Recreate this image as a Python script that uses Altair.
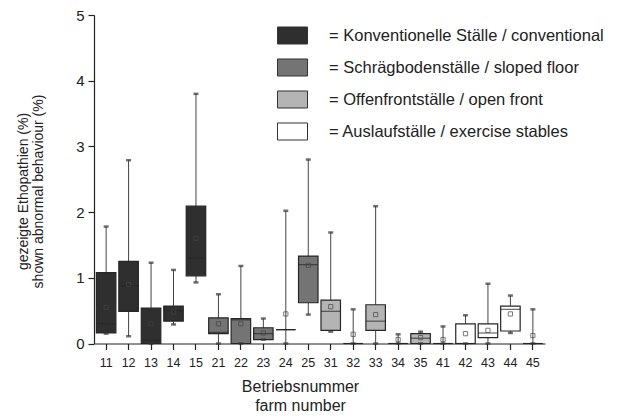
import altair as alt
import pandas as pd

# Farm numbers (first digit = housing system)
farms = ["11", "12", "13", "14", "15", "21", "22", "23", "24", "25",
         "31", "32", "33", "34", "35", "41", "42", "43", "44", "45"]

# Box statistics of shown abnormal behaviour (%) per farm
lo = [0.15, 0.11, 0.00, 0.29, 0.93, 0.00, 0.00, 0.06, 0.00, 0.44,
      0.18, 0.00, 0.00, 0.00, 0.00, 0.00, 0.00, 0.00, 0.16, 0.00]
q1 = [0.16, 0.49, 0.00, 0.34, 1.03, 0.15, 0.00, 0.06, 0.21, 0.62,
      0.20, 0.00, 0.20, 0.00, 0.00, 0.00, 0.00, 0.09, 0.19, 0.00]
med = [0.30, 0.88, 0.05, 0.50, 1.30, 0.17, 0.36, 0.15, 0.21, 1.20,
       0.49, 0.00, 0.34, 0.00, 0.08, 0.00, 0.00, 0.16, 0.52, 0.00]
q3 = [1.08, 1.25, 0.54, 0.57, 2.09, 0.39, 0.38, 0.24, 0.21, 1.33,
      0.66, 0.00, 0.59, 0.00, 0.15, 0.00, 0.30, 0.30, 0.57, 0.00]
hi = [1.78, 2.79, 1.23, 1.12, 3.80, 0.75, 1.18, 0.38, 2.02, 2.80,
      1.69, 0.52, 2.09, 0.14, 0.18, 0.26, 0.43, 0.91, 0.73, 0.52]
mean = [0.55, 0.90, 0.30, 0.48, 1.60, 0.30, 0.30, 0.16, 0.45, 1.19,
        0.56, 0.14, 0.44, 0.06, 0.09, 0.06, 0.15, 0.20, 0.45, 0.12]

group_names = ["= Konventionelle Ställe / conventional",
               "= Schrägbodenställe / sloped floor",
               "= Offenfrontställe / open front",
               "= Auslaufställe / exercise stables"]
group_fill = ["#2f2f2f", "#747474", "#b4b4b4", "#ffffff"]

y_ticks = [0, 0.5, 1, 1.5, 2, 2.5, 3, 3.5, 4, 4.5, 5]

df = pd.DataFrame({
    "farm": farms,
    "group": [group_names[int(f[0]) - 1] for f in farms],
    "lo": lo, "q1": q1, "med": med, "q3": q3, "hi": hi, "mean": mean,
})

FONT = "Liberation Sans"
INK = "#222222"

x_enc = alt.X(
    "farm:N", sort=farms,
    scale=alt.Scale(paddingInner=0, paddingOuter=0.04),
    axis=alt.Axis(
        title=["Betriebsnummer", "farm number"],
        titleFontSize=16, titleFont=FONT, titleColor=INK, titleFontWeight="normal",
        titleLineHeight=19.5, titleBaseline="alphabetic", titleAlign="center",
        titleX=206, titleY=47.5,
        labelAngle=0, labelFontSize=12.5, labelFont=FONT, labelColor=INK,
        labelPadding=7, tickSize=6, tickColor=INK, domainColor=INK,
        domainWidth=1.2, tickWidth=1.2, grid=False,
    ),
)

y_scale = alt.Scale(domain=[0, 5], nice=False, zero=True)
y_axis = alt.Axis(
    title=["gezeigte Ethopathien  (%)", "shown abnormal behaviour (%)"],
    titleFontSize=14, titleFont=FONT, titleColor=INK, titleFontWeight="normal",
    titleLineHeight=15.5, titleAngle=270, titleBaseline="middle",
    titleAlign="center", titleX=-71, titleY=176,
    values=y_ticks, format=".0f",
    labelExpr="datum.value % 1 === 0 ? datum.label : ''",
    tickSize={"condition": {"test": "datum.value % 1 !== 0", "value": 3}, "value": 6},
    labelFontSize=15, labelFont=FONT, labelColor=INK, labelPadding=4,
    tickColor=INK, domainColor=INK, domainWidth=1.2, tickWidth=1.2, grid=False,
)

base = alt.Chart(df).encode(x=x_enc)

whiskers = base.mark_rule(color="#444444", strokeWidth=1).encode(
    y=alt.Y("lo:Q", scale=y_scale, axis=y_axis), y2="hi:Q")

boxes = base.mark_bar(size=19.5, stroke="#262626", strokeWidth=1.2).encode(
    y=alt.Y("q1:Q", scale=y_scale), y2="q3:Q",
    fill=alt.Fill(
        "group:N",
        scale=alt.Scale(domain=group_names, range=group_fill),
        legend=alt.Legend(
            orient="none", legendX=183, legendY=5, title=None,
            symbolType="M-1,-0.567H1V0.567H-1Z", symbolSize=900,
            symbolStrokeColor="#333333", symbolStrokeWidth=1, symbolOpacity=1,
            labelFontSize=16.5, labelFont=FONT, labelColor=INK,
            labelOffset=21, rowPadding=5, padding=0, labelLimit=400,
        ),
    ),
)

medians = base.mark_tick(size=19.5, thickness=1.2, color="#262626").encode(
    y=alt.Y("med:Q", scale=y_scale))

caps_hi = base.mark_tick(size=5, thickness=2.5, color="#333333").encode(
    y=alt.Y("hi:Q", scale=y_scale))
caps_lo = base.mark_tick(size=5, thickness=2.5, color="#333333").encode(
    y=alt.Y("lo:Q", scale=y_scale))

means = base.mark_square(size=18, filled=False, color="#444444", strokeWidth=1).encode(
    y=alt.Y("mean:Q", scale=y_scale))

chart = alt.layer(whiskers, boxes, medians, caps_hi, caps_lo, means).properties(
    width=451, height=328.5,
    autosize=alt.AutoSizeParams(type="none"),
    padding={"left": 94, "top": 15, "right": 74, "bottom": 73.5},
    background="white",
).configure(font=FONT).configure_view(stroke=None)

chart.save("out.html", embed_options={"renderer": "svg", "actions": False})
